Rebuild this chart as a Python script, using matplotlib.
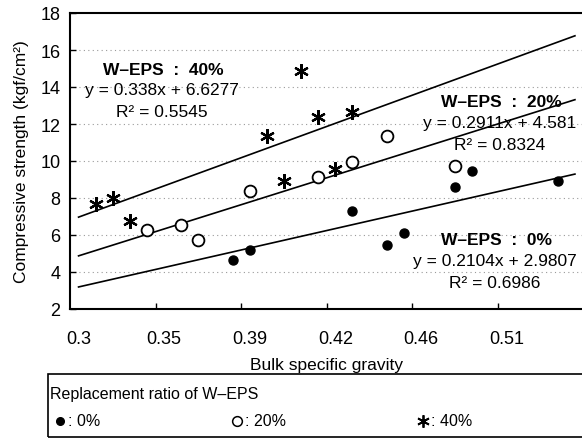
# coding:utf-8
"""
W-EPS置換率ごとの 圧縮強度 vs 嵩比重 (散布図 + 近似直線)
"""
import matplotlib
matplotlib.use("Agg")
import matplotlib.pyplot as plt
from matplotlib.lines import Line2D
from matplotlib.patches import Rectangle
import numpy as np

plt.rcParams['font.family'] = ['Liberation Sans', 'DejaVu Sans']

# x軸はカテゴリ番号(1〜30)、ラベルは嵩比重
tick_pos = [1, 6, 11, 16, 21, 26]
tick_labels = ['0.3', '0.35', '0.39', '0.42', '0.46', '0.51']

# 置換率 0%
x_0 = [10, 11, 17, 19, 20, 23, 24, 29]
y_0 = [4.66, 5.19, 7.28, 5.46, 6.11, 8.58, 9.48, 8.90]
# 置換率 20%
x_20 = [5, 7, 8, 11, 15, 17, 19, 23]
y_20 = [6.29, 6.54, 5.73, 8.36, 9.12, 9.96, 11.33, 9.75]
# 置換率 40%
x_40 = [2, 3, 4, 12, 13, 14, 15, 16, 17]
y_40 = [7.68, 7.98, 6.77, 11.37, 8.90, 14.88, 12.36, 9.57, 12.63]

# 近似直線 (傾き, 切片, R2)
fit_0 = (0.2104, 2.9807, 0.6986)
fit_20 = (0.2911, 4.581, 0.8324)
fit_40 = (0.338, 6.6277, 0.5545)
n_cat = 30

star = (6, 2, 0)

fig = plt.figure(figsize=(5.82, 4.39), dpi=100)
ax = fig.add_axes([70 / 582, 1 - 310 / 439, 513.5 / 582, 296 / 439])

xs = np.arange(1, n_cat + 1)
for m, b, _ in (fit_0, fit_20, fit_40):
    ax.plot(xs, m * xs + b, color='black', lw=1.2, zorder=2)

ax.plot(x_0, y_0, ls='none', marker='o', ms=6.5, mfc='black', mec='black', zorder=3)
ax.plot(x_20, y_20, ls='none', marker='o', ms=8.5, mfc='white', mec='black', mew=1.3, zorder=3)
ax.plot(x_40, y_40, ls='none', marker=star, ms=10.5, mec='black', mew=1.6, zorder=3)

ax.set_xlim(0.5, n_cat + 0.5)
ax.set_ylim(2, 18)
ax.set_yticks(range(2, 19, 2))
ax.set_xticks(tick_pos)
ax.set_xticklabels(tick_labels)
ax.set_xticks(np.arange(5.5, n_cat, 5), minor=True)
ax.tick_params(axis='x', which='major', length=0, pad=15, labelsize=13)
ax.tick_params(axis='x', which='minor', direction='in', length=4, width=1)
ax.tick_params(axis='y', direction='in', length=4, width=1, pad=7, labelsize=13)

for v in range(4, 18, 2):
    ax.axhline(v, color='#9a9a9a', lw=0.8, ls=(0, (1, 3)), zorder=1)

for s in ['left', 'bottom', 'top']:
    ax.spines[s].set_linewidth(1.5)
ax.spines['right'].set_visible(False)

ax.set_xlabel('Bulk specific gravity', fontsize=12.5, labelpad=7)
ax.set_ylabel('Compressive strength (kgf/cm²)', fontsize=12.5)
ax.yaxis.set_label_coords(-0.08, 0.5)

# 式のラベル
notes = [
    ('W–EPS  :  40%', fit_40, 5.95, 14.97),
    ('W–EPS  :  20%', fit_20, 25.7, 13.19),
    ('W–EPS  :  0%', fit_0, 25.4, 5.73),
]
for title, (m, b, r2), tx, ty in notes:
    ax.text(tx, ty, title, ha='center', va='center', fontsize=12.5, fontweight='bold')
    ax.text(tx - 0.1, ty - 1.12, f'y = {m}x + {b}', ha='center', va='center', fontsize=12.5)
    ax.text(tx - 0.1, ty - 2.3, f'R² = {r2}', ha='center', va='center', fontsize=12.5)

# 凡例ボックス
fig.add_artist(Rectangle((48 / 582, 1 - 438 / 439), 0.95, 63 / 439,
                         transform=fig.transFigure, fill=False, ec='black', lw=1.2))
fig.text(50 / 582, 1 - 395 / 439, 'Replacement ratio of W–EPS', fontsize=11.5, va='center')
legend_items = [
    (60, dict(marker='o', ms=5.5, mfc='black', mec='black'), ': 0%'),
    (237, dict(marker='o', ms=7, mfc='white', mec='black', mew=1.1), ': 20%'),
    (423, dict(marker=star, ms=9, mec='black', mew=1.3), ': 40%'),
]
ly = 1 - 422 / 439
for px, style, lab in legend_items:
    fig.add_artist(Line2D([px / 582], [ly], transform=fig.transFigure, ls='none', **style))
    fig.text((px + 8) / 582, ly, lab, fontsize=11.5, va='center')

fig.savefig('out.png', dpi=100)
